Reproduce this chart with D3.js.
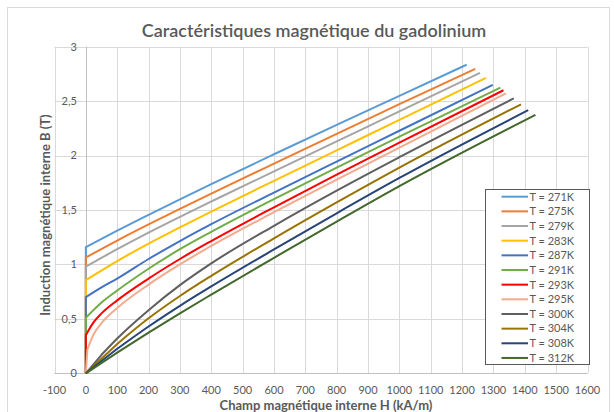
<!DOCTYPE html>
<html><head><meta charset="utf-8">
<script src="https://cdn.jsdelivr.net/npm/d3@7"></script>
<style>
html,body{margin:0;padding:0;background:#fff;}
svg text{font-family:Lato,"Open Sans",sans-serif;}
</style></head>
<body><svg id="c" width="614" height="412"></svg>
<script>
const title = "Caractéristiques magnétique du gadolinium";
const xTitle = "Champ magnétique interne H (kA/m)";
const yTitle = "Induction magnétique interne B (T)";
const seriesNames = ["T = 271K","T = 275K","T = 279K","T = 283K","T = 287K","T = 291K","T = 293K","T = 295K","T = 300K","T = 304K","T = 308K","T = 312K"];
const seriesColors = ["#5B9BD5","#ED7D31","#A5A5A5","#FFC000","#4472C4","#70AD47","#FF0000","#F4AA8C","#5F5F5F","#997300","#264478","#43682B"];
const xTicks = [-100,0,100,200,300,400,500,600,700,800,900,1000,1100,1200,1300,1400,1500,1600];
const yTicks = [0,0.5,1,1.5,2,2.5,3];

// H (kA/m) sample points and B (T) values per series
const H271 = [0,0,100,200,300,400,600,800,1000,1215];
const B271 = [0,1.16,1.31,1.455,1.598,1.738,2.012,2.282,2.548,2.835];
const H275 = [0,0,100,200,300,400,600,800,1000,1242];
const B275 = [0,1.064,1.219,1.367,1.51,1.65,1.926,2.2,2.472,2.796];
const H279 = [0,0,100,200,300,400,600,800,1000,1257];
const B279 = [0,0.98,1.14,1.292,1.437,1.578,1.854,2.13,2.406,2.76];
const H283 = [0,0,100,200,300,400,600,800,1000,1276];
const B283 = [0,0.856,1.031,1.191,1.341,1.486,1.768,2.048,2.328,2.714];
const H287 = [0,0,50,100,200,300,400,600,800,1000,1298];
const B287 = [0,0.70,0.79,0.87,1.05,1.215,1.37,1.66,1.945,2.228,2.65];
const H291 = [0,0,50,100,200,300,400,600,800,1000,1322];
const B291 = [0,0.51,0.65,0.76,0.96,1.14,1.30,1.60,1.89,2.174,2.625];
const H293 = [0,0,25,50,100,200,300,400,600,800,1000,1332];
const B293 = [0,0.35,0.47,0.55,0.67,0.87,1.05,1.215,1.525,1.825,2.119,2.60];
const H295 = [0,5,25,50,100,200,300,400,600,800,1000,1340];
const B295 = [0,0.22,0.36,0.46,0.60,0.815,1.0,1.17,1.48,1.78,2.072,2.572];
const H300 = [0,50,100,200,300,400,600,800,1000,1365];
const B300 = [0,0.17,0.32,0.58,0.81,1.01,1.355,1.678,1.985,2.525];
const H304 = [0,100,200,300,400,600,800,1000,1388];
const B304 = [0,0.27,0.505,0.71,0.895,1.239,1.569,1.889,2.471];
const H308 = [0,100,200,300,400,600,800,1000,1411];
const B308 = [0,0.225,0.43,0.62,0.798,1.138,1.47,1.794,2.417];
const H312 = [0,100,200,300,400,600,800,1000,1434];
const B312 = [0,0.19,0.373,0.551,0.723,1.061,1.393,1.719,2.374];

const seriesH = [H271,H275,H279,H283,H287,H291,H293,H295,H300,H304,H308,H312];
const seriesB = [B271,B275,B279,B283,B287,B291,B293,B295,B300,B304,B308,B312];

const svg = d3.select("#c");
const x = d3.scaleLinear().domain([-100,1600]).range([54.5,587.5]);
const y = d3.scaleLinear().domain([0,3]).range([373.3,46.7]);
const txt = "#595959";

svg.append("rect").attr("x",7.5).attr("y",7.5).attr("width",602).attr("height",420)
  .attr("fill","#fff").attr("stroke","#d9d9d9");

const g = svg.append("g");
g.selectAll(".vg").data(xTicks).join("line")
  .attr("x1",d=>Math.round(x(d))+0.5).attr("x2",d=>Math.round(x(d))+0.5)
  .attr("y1",y(3)).attr("y2",y(0)).attr("stroke","#d9d9d9");
g.selectAll(".hg").data(yTicks).join("line")
  .attr("y1",d=>Math.round(y(d))+0.5).attr("y2",d=>Math.round(y(d))+0.5)
  .attr("x1",x(-100)).attr("x2",x(1600)).attr("stroke","#d9d9d9");
g.append("line").attr("x1",Math.round(x(0))+0.5).attr("x2",Math.round(x(0))+0.5)
  .attr("y1",y(3)).attr("y2",y(0)).attr("stroke","#bfbfbf");
g.append("line").attr("y1",Math.round(y(0))+0.5).attr("y2",Math.round(y(0))+0.5)
  .attr("x1",x(-100)).attr("x2",x(1600)).attr("stroke","#bfbfbf");

const fmt = d=>String(d).replace(".",",");
svg.selectAll(".yl").data(yTicks).join("text")
  .attr("x",x(0)-9).attr("y",d=>y(d)).attr("dy","0.35em")
  .attr("text-anchor","end").attr("font-size",11).attr("fill",txt).text(fmt);
svg.selectAll(".xl").data(xTicks).join("text")
  .attr("x",d=>x(d)).attr("y",390).attr("dy","0.35em")
  .attr("text-anchor","middle").attr("font-size",11).attr("fill",txt).text(d=>d);

svg.append("text").attr("x",314).attr("y",37).attr("text-anchor","middle")
  .attr("font-size",18).attr("font-weight",600).attr("fill",txt).text(title);
svg.append("text").attr("x",326).attr("y",405).attr("dy","0.35em").attr("text-anchor","middle")
  .attr("font-size",13).attr("font-weight",700).attr("fill",txt).text(xTitle);
svg.append("text").attr("transform",`translate(45,215) rotate(-90)`)
  .attr("dy","0.35em").attr("text-anchor","middle")
  .attr("font-size",13).attr("font-weight",700).attr("fill",txt).text(yTitle);

const lineLin = d3.line().x(d=>x(d[0])).y(d=>y(d[1]));
const lineSmooth = d3.line().x(d=>x(d[0])).y(d=>y(d[1])).curve(d3.curveMonotoneX);
seriesNames.forEach((n,i)=>{
  const pts = seriesH[i].map((h,j)=>[h,seriesB[i][j]]);
  const d = lineLin(pts.slice(0,2)) + lineSmooth(pts.slice(1)).replace(/^M/,"L");
  svg.append("path").attr("d",d).attr("fill","none")
    .attr("stroke",seriesColors[i]).attr("stroke-width",2).attr("stroke-linejoin","round");
});

const lg = svg.append("g");
lg.append("rect").attr("x",485.5).attr("y",189.5).attr("width",104).attr("height",175)
  .attr("fill","#fff").attr("stroke","#595959");
seriesNames.forEach((n,i)=>{
  const yy = 196.7 + i*14.66;
  lg.append("line").attr("x1",501.5).attr("x2",528).attr("y1",yy).attr("y2",yy)
    .attr("stroke",seriesColors[i]).attr("stroke-width",2);
  lg.append("text").attr("x",529.5).attr("y",yy).attr("dy","0.35em")
    .attr("font-size",11).attr("fill",txt).text(n);
});
</script></body></html>
